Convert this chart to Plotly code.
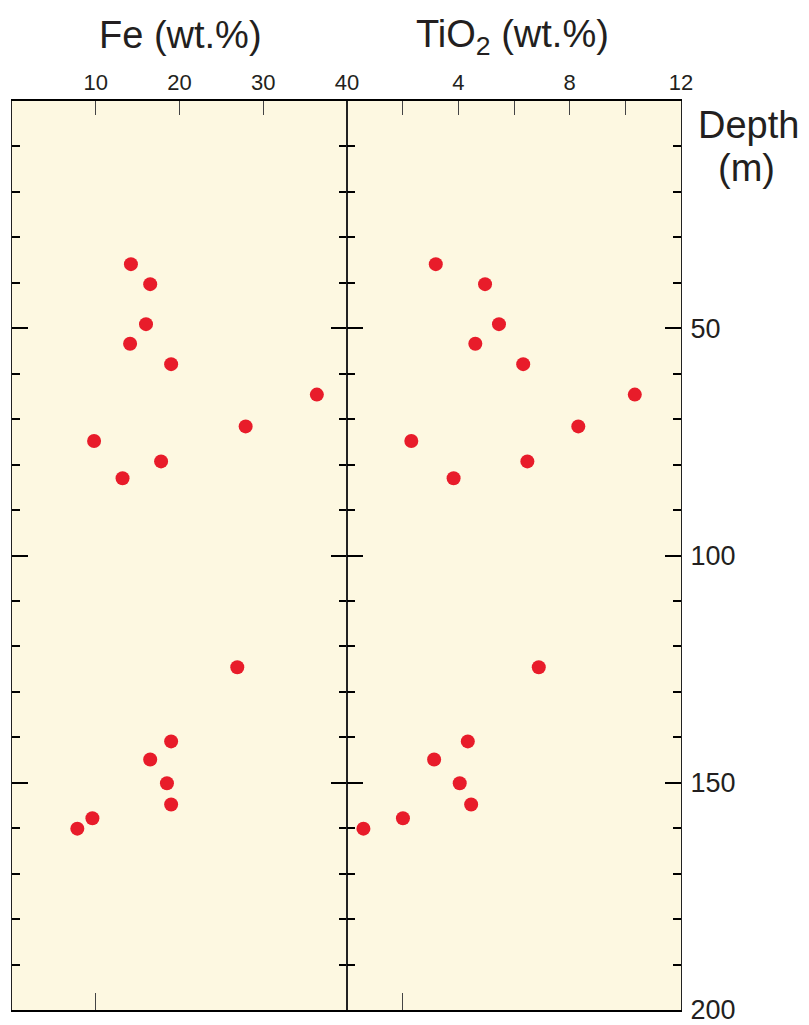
import plotly.graph_objects as go

# ---- data ----
depth = [35.9, 40.3, 49.1, 53.4, 57.9, 64.6, 71.6, 74.8, 79.3, 83.0,
         124.6, 140.9, 144.9, 150.1, 154.8, 157.8, 160.1]
fe = [14.2, 16.5, 16.0, 14.1, 19.0, 36.4, 27.9, 9.8, 17.8, 13.2,
      26.9, 19.0, 16.5, 18.5, 19.0, 9.6, 7.8]
tio2 = [3.19, 4.96, 5.46, 4.61, 6.33, 10.34, 8.31, 2.31, 6.48, 3.83,
        6.89, 4.34, 3.13, 4.05, 4.46, 2.01, 0.59]

fe_ticks = [10, 20, 30, 40]
tio2_ticks = [4, 8, 12]
depth_ticks = [50, 100, 150, 200]

FONT = "Liberation Sans, Arial, sans-serif"
TXT = "#231f20"
RED = "#e81c2a"
BG = "#fdf8e1"

W, H = 809, 1025
ML, MR, MT, MB = 12, 128, 101, 15
pw = W - ML - MR
ph = H - MT - MB
split = (347 - ML) / pw

def px(x):
    return (x - ML) / pw

def py(y):
    return (H - MB - y) / ph

fig = go.Figure()
fig.add_trace(go.Scatter(x=fe, y=depth, mode="markers", xaxis="x", yaxis="y",
                         marker=dict(size=14, color=RED), showlegend=False))
fig.add_trace(go.Scatter(x=tio2, y=depth, mode="markers", xaxis="x2", yaxis="y2",
                         marker=dict(size=14, color=RED), showlegend=False))
# helper (empty) traces for the bottom tick axes
fig.add_trace(go.Scatter(x=[None], y=[None], xaxis="x3", yaxis="y", showlegend=False, hoverinfo="skip"))
fig.add_trace(go.Scatter(x=[None], y=[None], xaxis="x4", yaxis="y2", showlegend=False, hoverinfo="skip"))

xcommon = dict(side="top", ticks="inside", ticklen=14, tickwidth=1, tickcolor="#444",
               showline=True, linecolor="black", linewidth=2, mirror=True,
               showgrid=False, zeroline=False, ticklabeloverflow="allow", automargin=False,
               tickfont=dict(family=FONT, size=22, color=TXT))
ycommon = dict(range=[200, 0], ticks="inside", ticklen=16, tickwidth=2, tickcolor="black",
               minor=dict(dtick=10, tick0=0, ticks="inside", ticklen=8, tickwidth=2, tickcolor="black"),
               showline=True, linecolor="#222", linewidth=1, mirror="ticks",
               showgrid=False, zeroline=False, ticklabeloverflow="allow", automargin=False,
               tickfont=dict(family=FONT, size=27, color=TXT))

fig.update_layout(
    width=W, height=H,
    margin=dict(l=ML, r=MR, t=MT, b=MB, autoexpand=False),
    paper_bgcolor="white", plot_bgcolor=BG,
    xaxis=dict(domain=[0, split], range=[0, 40], anchor="y",
               tickmode="array", tickvals=fe_ticks, **xcommon),
    xaxis2=dict(domain=[split, 1], range=[0, 12], anchor="y2",
                tickmode="array", tickvals=tio2_ticks,
                minor=dict(dtick=2, tick0=0, ticks="inside", ticklen=14, tickwidth=1, tickcolor="#444"),
                **xcommon),
    xaxis3=dict(overlaying="x", side="bottom", anchor="y", range=[0, 40],
                tickmode="array", tickvals=[10], ticks="inside", ticklen=17,
                tickwidth=1, tickcolor="#444", showticklabels=False, automargin=False,
                showline=False, showgrid=False, zeroline=False),
    xaxis4=dict(overlaying="x2", side="bottom", anchor="y2", range=[0, 12],
                tickmode="array", tickvals=[2], ticks="inside", ticklen=17,
                tickwidth=1, tickcolor="#444", showticklabels=False, automargin=False,
                showline=False, showgrid=False, zeroline=False),
    yaxis=dict(domain=[0, 1], anchor="x", tickmode="array", tickvals=depth_ticks,
               showticklabels=False, **ycommon),
    yaxis2=dict(domain=[0, 1], anchor="x2", side="right", tickmode="array",
                tickvals=depth_ticks, ticklabelstandoff=3, **ycommon),
    annotations=[
        dict(text="Fe (wt.%)", x=px(180), y=py(35)),
        dict(text="TiO<sub>2</sub> (wt.%)", x=px(512), y=py(37)),
        dict(text="Depth", x=px(748), y=py(125)),
        dict(text="(m)", x=px(746), y=py(168)),
    ],
)
fig.update_annotations(xref="paper", yref="paper", xanchor="center", yanchor="middle",
                       showarrow=False, font=dict(family=FONT, size=38, color=TXT))

fig.write_html("out.html")
